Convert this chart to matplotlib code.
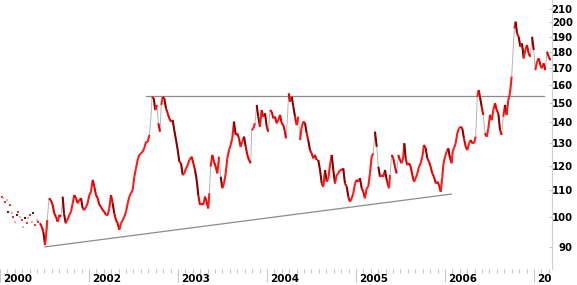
import numpy as np
import matplotlib
matplotlib.use('Agg')
import matplotlib.pyplot as plt
from matplotlib.collections import LineCollection
from matplotlib.ticker import FixedLocator, NullLocator
from matplotlib.transforms import Bbox, TransformedBbox, blended_transform_factory, offset_copy

# price series (decimal year, price)
years = [
    2001.449, 2001.469, 2001.487, 2001.506, 2001.517, 2001.531, 2001.551, 2001.570, 2001.592, 2001.610,
    2001.629, 2001.648, 2001.666, 2001.685, 2001.704, 2001.719, 2001.738, 2001.756, 2001.779, 2001.798,
    2001.817, 2001.835, 2001.854, 2001.873, 2001.891, 2001.910, 2001.929, 2001.947, 2001.966, 2001.985,
    2002.003, 2002.022, 2002.042, 2002.060, 2002.079, 2002.098, 2002.116, 2002.135, 2002.154, 2002.172,
    2002.191, 2002.210, 2002.228, 2002.247, 2002.266, 2002.284, 2002.303, 2002.322, 2002.340, 2002.360,
    2002.379, 2002.397, 2002.416, 2002.435, 2002.453, 2002.472, 2002.491, 2002.509, 2002.528, 2002.547,
    2002.565, 2002.584, 2002.603, 2002.621, 2002.640, 2002.660, 2002.678, 2002.697, 2002.708, 2002.727,
    2002.745, 2002.764, 2002.779, 2002.798, 2002.812, 2002.828, 2002.846, 2002.865, 2002.884, 2002.902,
    2002.921, 2002.940, 2002.958, 2002.978, 2002.997, 2003.015, 2003.034, 2003.053, 2003.071, 2003.090,
    2003.109, 2003.127, 2003.154, 2003.172, 2003.191, 2003.210, 2003.228, 2003.247, 2003.266, 2003.284,
    2003.303, 2003.322, 2003.340, 2003.352, 2003.367, 2003.385, 2003.404, 2003.424, 2003.442, 2003.461,
    2003.480, 2003.498, 2003.517, 2003.536, 2003.554, 2003.573, 2003.592, 2003.610, 2003.629, 2003.648,
    2003.666, 2003.685, 2003.704, 2003.722, 2003.742, 2003.761, 2003.779, 2003.798, 2003.817, 2003.828,
    2003.846, 2003.865, 2003.884, 2003.902, 2003.921, 2003.940, 2003.958, 2003.978, 2003.997, 2004.015,
    2004.034, 2004.053, 2004.071, 2004.090, 2004.109, 2004.127, 2004.146, 2004.165, 2004.183, 2004.202,
    2004.213, 2004.228, 2004.244, 2004.258, 2004.278, 2004.296, 2004.315, 2004.334, 2004.352, 2004.371,
    2004.390, 2004.408, 2004.427, 2004.446, 2004.463, 2004.483, 2004.502, 2004.520, 2004.539, 2004.558,
    2004.576, 2004.596, 2004.615, 2004.633, 2004.652, 2004.671, 2004.689, 2004.708, 2004.727, 2004.745,
    2004.764, 2004.783, 2004.801, 2004.820, 2004.839, 2004.857, 2004.876, 2004.896, 2004.913, 2004.933,
    2004.952, 2004.970, 2004.989, 2005.008, 2005.026, 2005.045, 2005.064, 2005.082, 2005.101, 2005.120,
    2005.138, 2005.157, 2005.176, 2005.194, 2005.213, 2005.233, 2005.251, 2005.270, 2005.289, 2005.307,
    2005.326, 2005.345, 2005.371, 2005.382, 2005.401, 2005.419, 2005.438, 2005.457, 2005.475, 2005.494,
    2005.513, 2005.531, 2005.543, 2005.558, 2005.576, 2005.596, 2005.615, 2005.633, 2005.652, 2005.671,
    2005.689, 2005.708, 2005.727, 2005.745, 2005.764, 2005.783, 2005.801, 2005.820, 2005.839, 2005.857,
    2005.876, 2005.896, 2005.913, 2005.933, 2005.952, 2005.970, 2005.981, 2006.000, 2006.019, 2006.037,
    2006.056, 2006.075, 2006.086, 2006.101, 2006.120, 2006.138, 2006.157, 2006.176, 2006.194, 2006.213,
    2006.233, 2006.251, 2006.270, 2006.289, 2006.307, 2006.326, 2006.345, 2006.363, 2006.379, 2006.393,
    2006.412, 2006.430, 2006.449, 2006.469, 2006.487, 2006.506, 2006.525, 2006.543, 2006.562, 2006.581,
    2006.599, 2006.618, 2006.637, 2006.655, 2006.674, 2006.693, 2006.711, 2006.730, 2006.749, 2006.767,
    2006.779, 2006.794, 2006.809, 2006.828, 2006.846, 2006.865, 2006.884, 2006.902, 2006.921, 2006.940,
    2006.958, 2006.978, 2006.997, 2007.015, 2007.034, 2007.053, 2007.071, 2007.090, 2007.109, 2007.127,
    2007.146, 2007.165, 2007.185,
]
prices = [
    97.8, 96.6, 94.9, 90.5, 93.2, 98.9, 106.9, 106.2, 104.4, 101.3,
    100.1, 98.3, 100.7, 100.1, 107.5, 101.3, 97.8, 98.9, 100.7, 101.9,
    105.0, 108.1, 106.9, 105.0, 106.2, 106.9, 103.1, 102.5, 103.7, 105.0,
    108.1, 109.4, 114.1, 111.4, 108.1, 106.9, 104.4, 103.7, 102.5, 101.9,
    100.7, 100.7, 103.1, 108.1, 105.0, 101.3, 98.9, 97.8, 95.5, 97.8,
    98.9, 100.1, 101.9, 105.0, 107.5, 108.8, 110.1, 115.4, 118.9, 122.5,
    124.7, 125.4, 126.2, 127.7, 130.7, 130.7, 133.9, 142.9, 153.4, 152.6,
    146.3, 149.0, 139.6, 135.5, 149.0, 153.4, 152.6, 147.2, 144.6, 142.1,
    140.4, 141.2, 136.3, 131.5, 126.9, 121.8, 121.1, 116.1, 116.8, 118.9,
    120.3, 122.5, 123.9, 121.1, 118.2, 114.1, 108.1, 104.4, 105.0, 104.4,
    107.5, 105.6, 103.1, 108.8, 119.6, 124.7, 121.8, 119.6, 116.8, 123.9,
    115.4, 110.8, 112.7, 116.8, 123.2, 126.9, 129.2, 132.3, 140.4, 133.9,
    134.7, 132.3, 128.4, 130.7, 133.1, 128.4, 124.7, 122.5, 121.1, 136.3,
    137.1, 139.6, 149.0, 142.9, 137.9, 146.3, 142.9, 144.6, 137.9, 135.5,
    146.3, 145.5, 142.1, 142.9, 139.6, 141.2, 143.8, 139.6, 138.7, 135.5,
    132.3, 141.2, 155.3, 150.7, 153.4, 148.1, 142.9, 138.7, 142.9, 131.5,
    137.9, 140.4, 139.6, 134.7, 131.5, 126.9, 125.4, 123.2, 124.7, 122.5,
    122.5, 118.2, 112.7, 111.4, 118.2, 113.4, 114.8, 120.3, 124.7, 118.2,
    112.7, 116.1, 116.8, 118.2, 118.2, 118.9, 112.7, 111.4, 107.5, 105.6,
    106.9, 108.8, 112.7, 114.1, 113.4, 114.8, 110.8, 109.4, 106.9, 110.8,
    111.4, 116.8, 123.9, 125.4, 135.5, 128.4, 119.6, 115.4, 116.1, 115.4,
    118.2, 114.1, 110.8, 116.1, 124.7, 123.2, 119.6, 116.8, 124.7, 122.5,
    121.1, 123.9, 130.0, 123.2, 120.3, 121.1, 119.6, 116.1, 113.4, 114.8,
    116.8, 119.6, 121.1, 123.9, 129.2, 127.7, 123.2, 121.8, 119.6, 116.8,
    115.4, 112.7, 113.4, 112.1, 109.4, 115.4, 120.3, 123.9, 126.2, 127.7,
    123.2, 121.1, 126.2, 127.7, 130.0, 134.7, 137.1, 137.9, 137.1, 132.3,
    128.4, 126.9, 130.0, 131.5, 130.0, 130.0, 133.1, 153.4, 157.1, 153.4,
    148.1, 143.8, 134.7, 133.1, 137.1, 143.8, 141.2, 146.3, 149.9, 146.3,
    144.6, 136.3, 133.9, 142.9, 149.0, 143.8, 151.6, 155.3, 164.8, 183.3,
    195.7, 200.4, 192.3, 189.9, 183.3, 185.5, 175.9, 181.2, 184.4, 179.1,
    176.9, 189.9, 181.2, 168.7, 173.8, 175.9, 171.8, 169.8, 172.8, 168.7,
    180.1, 176.9, 174.8,
]

# sparse early quotes drawn as dots
early_years = [2001.019, 2001.037, 2001.056, 2001.075, 2001.093, 2001.112, 2001.131, 2001.149,
               2001.169, 2001.188, 2001.206, 2001.225, 2001.244, 2001.262, 2001.281, 2001.300,
               2001.318, 2001.337, 2001.356, 2001.374, 2001.393, 2001.412, 2001.430]
early_prices = [107.5, 106.9, 105.6, 106.2, 101.9, 104.4, 101.3, 100.1,
                98.3, 100.7, 101.9, 100.1, 98.9, 96.6, 99.6, 97.8,
                99.5, 100.7, 98.3, 101.3, 97.2, 98.9, 98.2]

# trend lines
resist_years = [2002.64, 2007.115]
resist_prices = [153.8, 153.8]
support_years = [2001.506, 2006.07]
support_prices = [89.9, 108.5]

year_ticks = [2001, 2002, 2003, 2004, 2005, 2006, 2007]
year_labels = ['2000', '2002', '2003', '2004', '2005', '2006', '2007']
price_ticks = [90, 100, 110, 120, 130, 140, 150, 160, 170, 180, 190, 200, 210]

fig = plt.figure(figsize=(5.77, 2.85), dpi=100)
ax = fig.add_axes([0, 16 / 285, 552 / 577, 269 / 285])
ax.set_yscale('log')

# gray connecting line, red price segments on top (big jumps stay gray)
ax.plot(years, prices, color='#b4b4b4', lw=0.7, zorder=2)
x = np.array(years)
y = np.array(prices)
segs = np.stack([np.column_stack([x[:-1], y[:-1]]), np.column_stack([x[1:], y[1:]])], axis=1)
dl = np.diff(np.log(y))
keep = np.abs(dl) < 0.065
cols = np.where(dl < -0.035, '#8a0000', np.where(dl < 0, '#e60000', '#ff1a1a'))
ax.add_collection(LineCollection(segs[keep], colors=cols[keep], linewidths=1.5, zorder=3))

dot_cols = ['#e83030', '#f6a8a8', '#e83030', '#f6a8a8', '#402020']
ax.scatter(early_years, early_prices, s=2.5, marker='s', linewidths=0,
           c=[dot_cols[i % 5] for i in range(len(early_years))], zorder=3)

ax.plot(resist_years, resist_prices, color='#8c8c8c', lw=0.9, zorder=1)
ax.plot(support_years, support_prices, color='#8c8c8c', lw=0.9, zorder=1)

ax.set_xlim(2001, 2001 + 552 / 89)
ax.set_ylim(83.1, 216.5)

for side in ['top', 'left', 'bottom']:
    ax.spines[side].set_visible(False)
ax.spines['right'].set_color('#d0d0d0')
ax.spines['right'].set_linewidth(0.8)

# y axis on the right
ax.yaxis.tick_right()
ax.yaxis.set_major_locator(FixedLocator(price_ticks))
ax.yaxis.set_minor_locator(NullLocator())
ax.set_yticklabels([str(p) for p in price_ticks])
ax.tick_params(axis='y', direction='in', length=2.5, color='#c8c8c8', pad=15)
for lab in ax.get_yticklabels():
    lab.set_horizontalalignment('right')
    lab.set_fontfamily('DejaVu Sans')
    lab.set_fontweight('bold')
    lab.set_fontsize(7.3)

# x axis: yearly long ticks, monthly short ticks
ax.xaxis.set_major_locator(FixedLocator(year_ticks))
ax.xaxis.set_minor_locator(FixedLocator(np.arange(2001, 2007.21, 1 / 12)))
ax.tick_params(axis='x', which='major', length=9.4, width=0.8, color='#c8c8c8', labelbottom=False)
ax.tick_params(axis='x', which='minor', length=3, width=0.8, color='#c8c8c8')

clip = TransformedBbox(Bbox([[0, 0], [552 / 577, 1]]), fig.transFigure)
trans = offset_copy(blended_transform_factory(ax.transData, ax.transAxes), fig=fig, x=3, y=-13, units='dots')
for yr, lab in zip(year_ticks, year_labels):
    t = ax.text(yr, 0, lab, transform=trans, ha='left', va='baseline',
                fontfamily='DejaVu Sans', fontweight='bold', fontsize=7.5, clip_on=True)
    t.set_clip_box(clip)

fig.savefig('out.png', dpi=100, facecolor='white')
